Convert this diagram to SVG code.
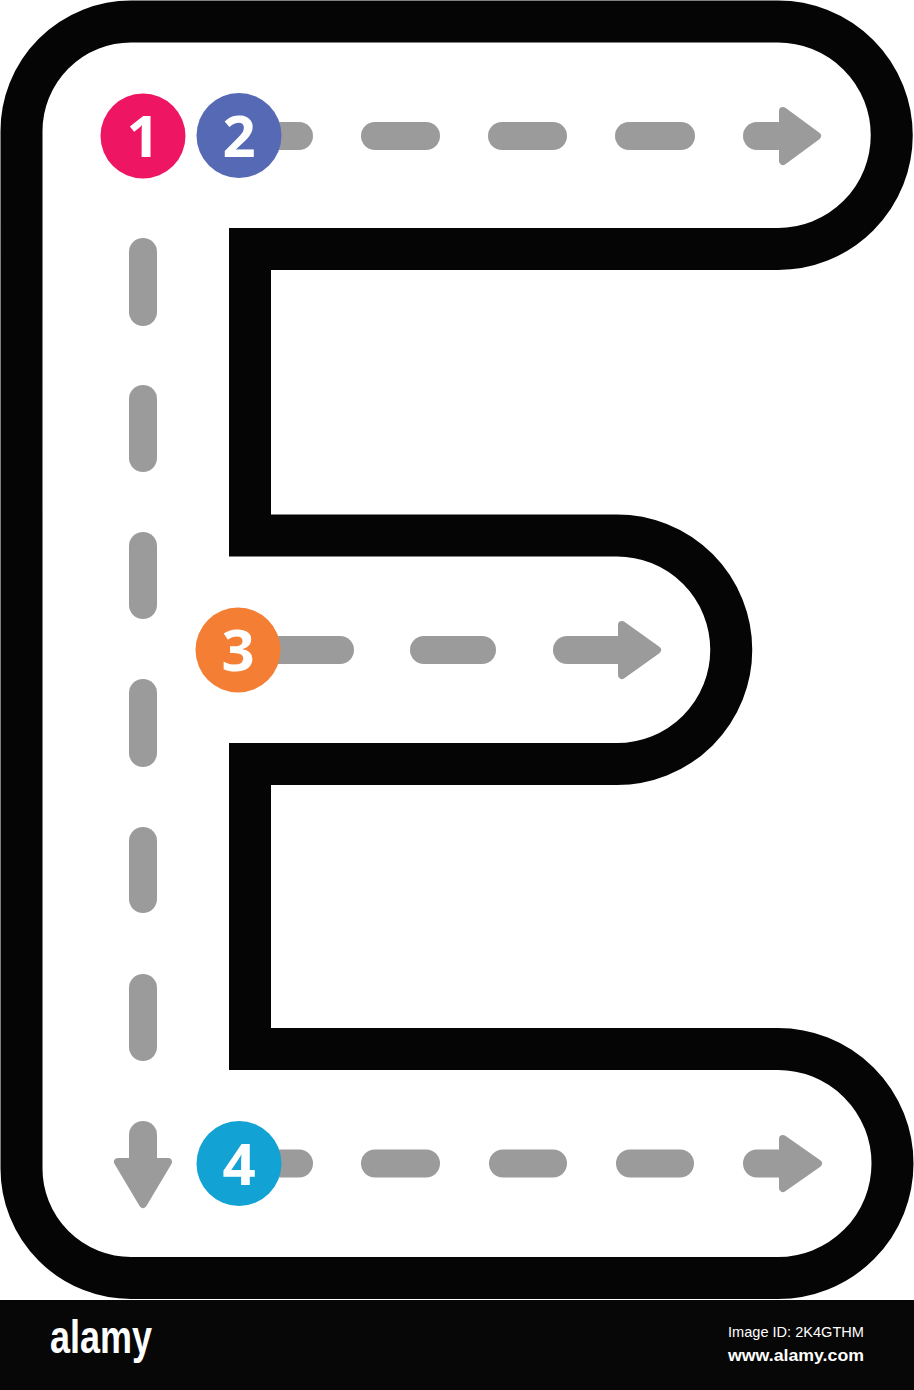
<svg xmlns="http://www.w3.org/2000/svg" width="914" height="1390" viewBox="0 0 914 1390">
  <style>
    .outline { fill: none; stroke: #050505; stroke-width: 42; stroke-linejoin: miter; }
    .dash { stroke: #9b9b9b; stroke-width: 28; stroke-linecap: round; fill: none; }
    .head { fill: #9b9b9b; stroke: #9b9b9b; stroke-width: 8; stroke-linejoin: round; }
    .num { fill: #ffffff; font-family: "Open Sans", "Noto Sans", sans-serif; font-weight: 700; font-size: 58px; text-anchor: middle; }
    .wm { fill: #ffffff; font-family: "Liberation Sans", Arial, sans-serif; }
  </style>
  <rect x="0" y="0" width="914" height="1390" fill="#ffffff"/>

  <g id="letter-e-outline">
    <path class="outline" d="M 21.5 131 A 109.5 109.5 0 0 1 131 21.5 L 778 21.5 A 113.75 113.75 0 0 1 778 249 L 250 249 L 250 535.5 L 617 535.5 A 114.25 114.25 0 0 1 617 764 L 250 764 L 250 1049 L 778 1049 A 114.5 114.5 0 0 1 778 1278 L 131 1278 A 109.5 109.5 0 0 1 21.5 1168.5 Z"/>
  </g>

  <g id="connectors">
    <!-- top row -->
    <line class="dash" x1="239" y1="136" x2="299" y2="136"/>
    <line class="dash" x1="375" y1="136" x2="426" y2="136"/>
    <line class="dash" x1="502" y1="136" x2="553" y2="136"/>
    <line class="dash" x1="629" y1="136" x2="681" y2="136"/>
    <line class="dash" x1="757" y1="136" x2="792" y2="136"/>
    <polygon class="head" points="783,111 817,136 783,161"/>
    <!-- vertical column -->
    <line class="dash" x1="143" y1="252" x2="143" y2="312"/>
    <line class="dash" x1="143" y1="399" x2="143" y2="458"/>
    <line class="dash" x1="143" y1="546" x2="143" y2="605"/>
    <line class="dash" x1="143" y1="693" x2="143" y2="753"/>
    <line class="dash" x1="143" y1="841" x2="143" y2="899"/>
    <line class="dash" x1="143" y1="988" x2="143" y2="1047"/>
    <line class="dash" x1="143" y1="1135" x2="143" y2="1170"/>
    <polygon class="head" points="118,1162 168,1162 143,1204"/>
    <!-- middle row -->
    <line class="dash" x1="238" y1="650" x2="340" y2="650"/>
    <line class="dash" x1="424" y1="650" x2="482" y2="650"/>
    <line class="dash" x1="567" y1="650" x2="630" y2="650"/>
    <polygon class="head" points="622,625 657,650 622,675"/>
    <!-- bottom row -->
    <line class="dash" x1="238" y1="1163.5" x2="299" y2="1163.5"/>
    <line class="dash" x1="375" y1="1163.5" x2="426" y2="1163.5"/>
    <line class="dash" x1="503" y1="1163.5" x2="553" y2="1163.5"/>
    <line class="dash" x1="630" y1="1163.5" x2="680" y2="1163.5"/>
    <line class="dash" x1="757" y1="1163.5" x2="792" y2="1163.5"/>
    <polygon class="head" points="783,1139 818,1163.5 783,1188"/>
  </g>

  <g id="step-1">
    <circle cx="143" cy="136" r="42.5" fill="#ee1562"/>
    <text class="num" x="143" y="157">1</text>
  </g>
  <g id="step-2">
    <circle cx="239" cy="135.5" r="42.5" fill="#5569b4"/>
    <text class="num" x="239" y="157">2</text>
  </g>
  <g id="step-3">
    <circle cx="238" cy="650" r="42.5" fill="#f47f34"/>
    <text class="num" x="238" y="671">3</text>
  </g>
  <g id="step-4">
    <circle cx="239" cy="1163.5" r="42.5" fill="#12a3d4"/>
    <text class="num" x="239" y="1185">4</text>
  </g>

  <g id="footer">
    <rect x="0" y="1300" width="914" height="90" fill="#070707"/>
    <text class="wm" x="50" y="1353" font-size="46" font-weight="700" textLength="102" lengthAdjust="spacingAndGlyphs">alamy</text>
    <text class="wm" x="728" y="1337" font-size="15" textLength="136" lengthAdjust="spacingAndGlyphs">Image ID: 2K4GTHM</text>
    <text class="wm" x="728" y="1361" font-size="16" font-weight="700" textLength="136" lengthAdjust="spacingAndGlyphs">www.alamy.com</text>
  </g>
</svg>
